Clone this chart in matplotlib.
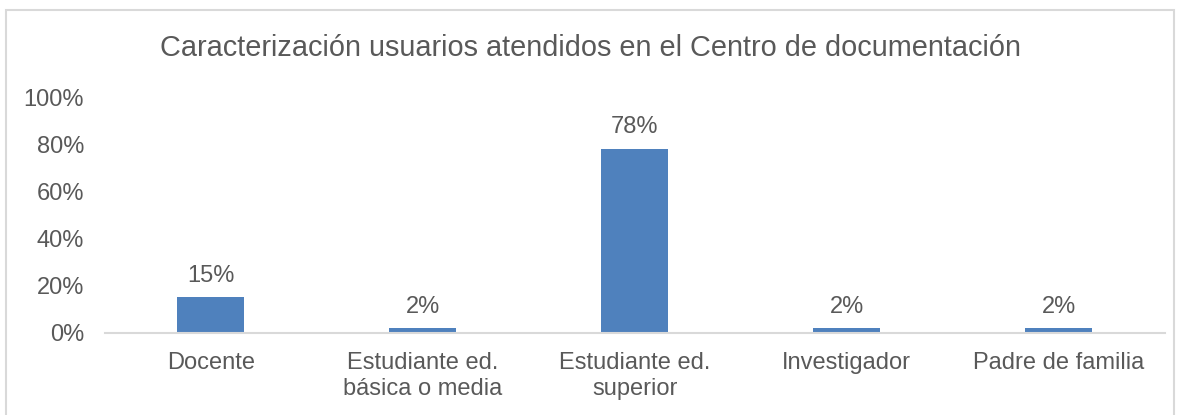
import matplotlib.pyplot as plt
from matplotlib.patches import Rectangle
import numpy as np

plt.rcParams['font.family'] = ['Liberation Sans', 'DejaVu Sans']

categories = ['Docente', 'Estudiante ed.\nbásica o media', 'Estudiante ed.\nsuperior',
              'Investigador', 'Padre de familia']
values = [0.15, 0.02, 0.78, 0.02, 0.02]
labels = ['15%', '2%', '78%', '2%', '2%']
yticks = [0, 0.2, 0.4, 0.6, 0.8, 1.0]
ytick_labels = ['0%', '20%', '40%', '60%', '80%', '100%']

text_color = '#595959'
bar_color = '#4F81BD'
line_color = '#D9D9D9'

fig = plt.figure(figsize=(11.8, 4.15), dpi=100)
ax = fig.add_axes([0.089, 0.198, 0.898, 0.568])

x = np.arange(len(categories))
ax.bar(x, values, width=0.316, color=bar_color, zorder=2)
for xi, v, lab in zip(x, values, labels):
    ax.text(xi, v + 0.045, lab, ha='center', va='bottom', fontsize=17, color=text_color)

ax.set_xlim(-0.5, len(categories) - 0.5)
ax.set_ylim(0, 1.0)
ax.set_yticks(yticks)
ax.set_yticklabels(ytick_labels)
ax.set_xticks(x)
ax.set_xticklabels(categories)
ax.tick_params(axis='both', length=0, labelsize=17, labelcolor=text_color)
ax.tick_params(axis='x', pad=14)
ax.tick_params(axis='y', pad=15)
for lab in ax.get_xticklabels():
    lab.set_linespacing(1.2)

for s in ['top', 'right', 'left']:
    ax.spines[s].set_visible(False)
ax.spines['bottom'].set_color(line_color)
ax.spines['bottom'].set_linewidth(1.5)

fig.text(0.5, 0.884, 'Caracterización usuarios atendidos en el Centro de documentación',
         ha='center', va='center', fontsize=20.8, color=text_color)

fig.patches.append(Rectangle((0.005, -0.01), 0.99, 0.985, transform=fig.transFigure,
                             fill=False, edgecolor=line_color, linewidth=1.5))

fig.savefig('out.png', dpi=100)
